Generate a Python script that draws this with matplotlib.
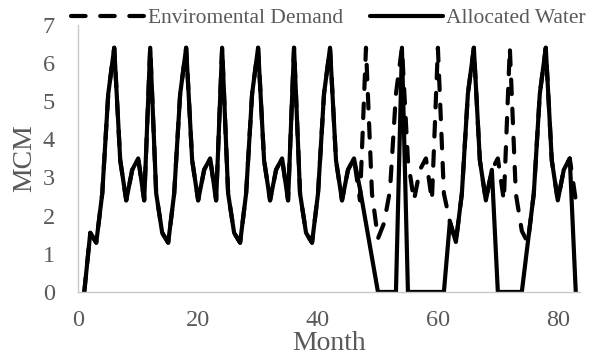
import matplotlib
matplotlib.use("Agg")
import matplotlib.pyplot as plt

months = list(range(1, 84))

env_demand = [
    0.0, 1.55, 1.29, 2.58, 5.19, 6.4, 3.45, 2.4, 3.2, 3.5, 2.4, 6.4,
    2.58, 1.55, 1.29, 2.58, 5.19, 6.4, 3.45, 2.4, 3.2, 3.5, 2.4, 6.4,
    2.58, 1.55, 1.29, 2.58, 5.19, 6.4, 3.45, 2.4, 3.2, 3.5, 2.4, 6.4,
    2.58, 1.55, 1.29, 2.58, 5.19, 6.4, 3.45, 2.4, 3.2, 3.5, 2.4, 6.4,
    2.58, 1.4, 1.8, 2.65, 5.19, 6.4, 3.45, 2.4, 3.2, 3.5, 2.4, 6.4,
    2.58, 1.84, 1.31, 2.58, 5.19, 6.4, 3.45, 2.4, 3.2, 3.5, 2.4, 6.4,
    2.58, 1.6, 1.29, 2.58, 5.19, 6.4, 3.45, 2.4, 3.2, 3.5, 2.4,
]

allocated = [
    0.0, 1.55, 1.29, 2.58, 5.19, 6.4, 3.45, 2.4, 3.2, 3.5, 2.4, 6.4,
    2.58, 1.55, 1.29, 2.58, 5.19, 6.4, 3.45, 2.4, 3.2, 3.5, 2.4, 6.4,
    2.58, 1.55, 1.29, 2.58, 5.19, 6.4, 3.45, 2.4, 3.2, 3.5, 2.4, 6.4,
    2.58, 1.55, 1.29, 2.58, 5.19, 6.4, 3.45, 2.4, 3.2, 3.5, 2.7, 1.8,
    0.9, 0.0, 0.0, 0.0, 0.0, 6.4, 0.0, 0.0, 0.0, 0.0, 0.0, 0.0,
    0.0, 1.84, 1.31, 2.58, 5.19, 6.4, 3.45, 2.4, 3.2, 0.0, 0.0, 0.0,
    0.0, 0.0, 1.29, 2.58, 5.19, 6.4, 3.45, 2.4, 3.2, 3.5, 0.0,
]

x_ticks = [0, 20, 40, 60, 80]
y_ticks = [0, 1, 2, 3, 4, 5, 6, 7]

plt.rcParams['font.family'] = ['Liberation Serif', 'DejaVu Serif']
grey = '#595959'

fig = plt.figure(figsize=(5.93, 3.6), dpi=100)
ax = fig.add_axes([0.132, 0.189, 0.846, 0.742])

ax.plot(months, env_demand, color='black', lw=3.0, linestyle=(0, (3.5, 3.5)),
        dash_capstyle='round', solid_joinstyle='round', label='Enviromental Demand')
ax.plot(months, allocated, color='black', lw=3.0, solid_capstyle='round',
        solid_joinstyle='round', label='Allocated Water')

ax.set_xlim(0, 83.7)
ax.set_ylim(0, 7)
ax.set_xticks(x_ticks)
ax.set_yticks(y_ticks)
ax.tick_params(length=0, labelsize=17.5, colors=grey)
ax.tick_params(axis='y', pad=17)
ax.tick_params(axis='x', pad=13)
for s in ['top', 'right']:
    ax.spines[s].set_visible(False)
for s in ['left', 'bottom']:
    ax.spines[s].set_color('#c8c8c8')
    ax.spines[s].set_linewidth(1.0)

ax.set_xlabel('Month', fontsize=20, color=grey, labelpad=0)
ax.set_ylabel('MCM', fontsize=20, color=grey, labelpad=4)

leg = fig.legend(loc='center', bbox_to_anchor=(0.554, 0.95), ncol=2, frameon=False,
                 fontsize=15.5, handlelength=3.4, handletextpad=0.15, columnspacing=1.25,
                 borderaxespad=0)
for t in leg.get_texts():
    t.set_color(grey)

fig.savefig('out.png', dpi=100)
